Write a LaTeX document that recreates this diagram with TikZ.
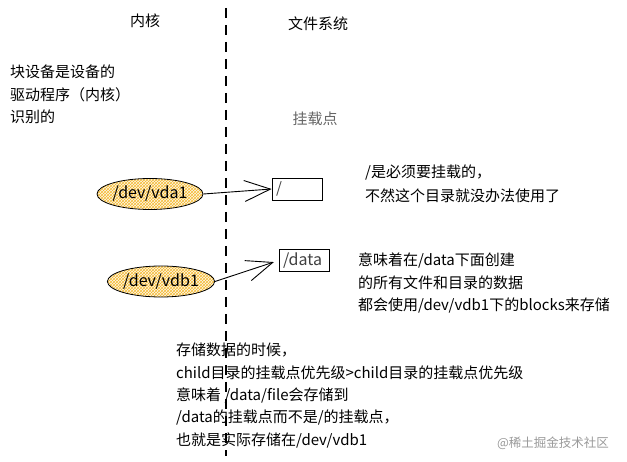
\documentclass[tikz,border=0pt]{standalone}
\usepackage{fontspec}
\setmainfont{Noto Sans CJK SC}
\usepackage{tikz}
\usetikzlibrary{arrows.meta,patterns,shapes.geometric}
\usepackage{xcolor}
\definecolor{hatch}{HTML}{F2A900}

\begin{document}
\begin{tikzpicture}[x=1pt, y=-1pt,
    every node/.style={font=\fontsize{15}{22.3}\selectfont},
    note/.style={anchor=north west, align=left, inner sep=0pt},
    dev/.style={ellipse, draw, line width=0.8pt, minimum width=86, minimum height=31,
        inner sep=0pt, preaction={fill=hatch!8}, pattern=crosshatch, pattern color=hatch!80,
        font=\fontsize{16}{18}\selectfont},
    mount/.style={draw, line width=0.8pt, minimum height=22, inner xsep=4pt,
        text width=42pt, align=left, text=black!75},
    link/.style={-{Straight Barb[length=26pt,width=21pt]}, line width=0.9pt}]

        % Canvas
        \useasboundingbox (0,0) rectangle (627,462);

        % Kernel / file system divider
        \coordinate (divtop) at (226,8);
        \coordinate (divbot) at (226,456);
        \draw[line width=1.3pt, dash pattern=on 10pt off 7pt] (divtop) -- (divbot);

        % Headings
        \node (kernel) at (145,21) {内核};
        \node (fs) at (318,23.5) {文件系统};
        \node[text=black!60] (mp) at (315,119) {挂载点};

        % Left note
        \node[note] (blocknote) at (10,65) {块设备是设备的\\驱动程序（内核）\\识别的};

        % Block devices
        \node[dev] (vda) at (150,194) {/dev/vda1};
        \node[dev] (vdb) at (161,281.5) {/dev/vdb1};

        % Mount points
        \node[mount] (root) at (297,189) {/};
        \node[mount, font=\fontsize{16}{18}\selectfont] (data) at (304,260.5) {/data};

        % Mount arrows
        \draw[link] (vda.east) -- (root.west);
        \draw[link, shorten >=5pt] (vdb.east) -- (data.west);

        % Right notes
        \node[note, font=\fontsize{15}{23.5}\selectfont] (rootnote) at (365,165)
            {/是必须要挂载的，\\不然这个目录就没办法使用了};
        \node[note] (datanote) at (358,253)
            {意味着在/data下面创建\\的所有文件和目录的数据\\都会使用/dev/vdb1下的blocks来存储};

        % Bottom note
        \node[note] (storenote) at (176,343)
            {存储数据的时候，\\child目录的挂载点优先级>child目录的挂载点优先级\\意味着 /data/file会存储到\\/data的挂载点而不是/的挂载点，\\也就是实际存储在/dev/vdb1};

        % Watermark
        \node[text=black!40, font=\fontsize{12.5}{14}\selectfont] (mark) at (553,443) {@稀土掘金技术社区};
\end{tikzpicture}
\end{document}
